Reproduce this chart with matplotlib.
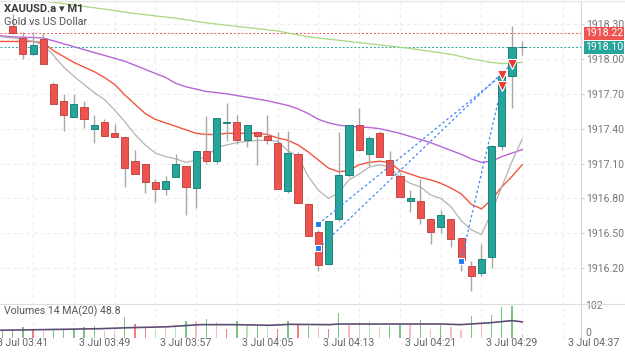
import matplotlib
matplotlib.use("Agg")
import matplotlib.pyplot as plt
import matplotlib.transforms as mtransforms
from matplotlib.lines import Line2D

plt.rcParams['font.family'] = ['Roboto', 'DejaVu Sans']

# ---------------- candles (03:40 .. 04:30, one per minute) ----------------
opens = [1918.28, 1918.18, 1918.04, 1918.17, 1917.78, 1917.64, 1917.50, 1917.59, 1917.40, 1917.46,
         1917.36, 1917.33, 1917.12, 1917.10, 1916.94, 1916.88, 1916.98, 1917.08, 1916.89, 1917.21,
         1917.12, 1917.45, 1917.46, 1917.30, 1917.37, 1917.34, 1917.28, 1916.86, 1917.18, 1916.75,
         1916.51, 1916.24, 1916.62, 1917.00, 1917.43, 1917.18, 1917.36, 1917.13, 1916.99, 1916.78,
         1916.78, 1916.62, 1916.55, 1916.62, 1916.46, 1916.22, 1916.16, 1916.30, 1917.25, 1917.85,
         1918.10]
highs = [1918.39, 1918.23, 1918.23, 1918.22, 1917.80, 1917.70, 1917.70, 1917.64, 1917.52, 1917.48,
         1917.44, 1917.34, 1917.22, 1917.10, 1916.97, 1916.99, 1917.18, 1917.08, 1917.21, 1917.51,
         1917.49, 1917.62, 1917.52, 1917.43, 1917.38, 1917.52, 1917.37, 1917.38, 1917.20, 1916.76,
         1916.53, 1916.61, 1917.37, 1917.43, 1917.58, 1917.34, 1917.38, 1917.21, 1917.03, 1916.87,
         1916.97, 1916.62, 1916.70, 1916.62, 1916.46, 1916.26, 1916.41, 1917.26, 1917.87, 1918.28,
         1918.15]
lows = [1918.21, 1918.00, 1918.03, 1917.96, 1917.61, 1917.38, 1917.50, 1917.41, 1917.28, 1917.34,
        1917.33, 1916.90, 1917.01, 1916.85, 1916.77, 1916.83, 1916.98, 1916.66, 1916.72, 1917.10,
        1917.10, 1917.29, 1917.27, 1917.24, 1917.09, 1917.27, 1916.88, 1916.85, 1916.76, 1916.48,
        1916.18, 1916.23, 1916.61, 1916.98, 1917.21, 1917.08, 1917.16, 1917.00, 1916.81, 1916.68,
        1916.58, 1916.41, 1916.50, 1916.38, 1916.18, 1916.00, 1916.13, 1916.20, 1917.22, 1917.58,
        1918.03]
closes = [1918.22, 1918.04, 1918.12, 1917.96, 1917.61, 1917.52, 1917.61, 1917.48, 1917.43, 1917.34,
          1917.33, 1917.06, 1917.01, 1916.94, 1916.88, 1916.95, 1917.10, 1916.90, 1917.21, 1917.12,
          1917.49, 1917.46, 1917.30, 1917.43, 1917.34, 1917.30, 1916.88, 1917.19, 1916.76, 1916.48,
          1916.23, 1916.61, 1917.00, 1917.43, 1917.22, 1917.32, 1917.16, 1917.00, 1916.81, 1916.80,
          1916.63, 1916.51, 1916.66, 1916.45, 1916.27, 1916.13, 1916.28, 1917.25, 1917.85, 1918.10,
          1918.10]

# ---------------- moving averages ----------------
ma_fast_x = [-1.25] + list(range(0, 51))
ma_fast = [1918.19, 1918.18, 1918.17, 1918.15, 1918.12, 1918.03, 1917.93, 1917.85, 1917.78, 1917.71,
           1917.65, 1917.56, 1917.46, 1917.35, 1917.26, 1917.19, 1917.16, 1917.14, 1917.11, 1917.13,
           1917.16, 1917.24, 1917.26, 1917.28, 1917.29, 1917.30, 1917.30, 1917.29, 1917.21, 1917.16,
           1916.99, 1916.87, 1916.80, 1916.85, 1916.96, 1917.01, 1917.07, 1917.09, 1917.07, 1916.98,
           1916.93, 1916.90, 1916.83, 1916.80, 1916.73, 1916.61, 1916.53, 1916.49, 1916.68, 1916.90,
           1917.12, 1917.31]
ma_mid_x = [-1.25] + list(range(0, 51))
ma_mid = [1918.15, 1918.15, 1918.15, 1918.15, 1918.14, 1918.07, 1918.02, 1917.97, 1917.93, 1917.89,
          1917.84, 1917.78, 1917.69, 1917.61, 1917.53, 1917.48, 1917.45, 1917.42, 1917.39, 1917.36,
          1917.35, 1917.35, 1917.36, 1917.36, 1917.36, 1917.36, 1917.35, 1917.32, 1917.30, 1917.26,
          1917.20, 1917.13, 1917.06, 1917.03, 1917.04, 1917.09, 1917.11, 1917.12, 1917.11, 1917.04,
          1917.01, 1916.98, 1916.96, 1916.93, 1916.89, 1916.84, 1916.75, 1916.71, 1916.79, 1916.90,
          1916.99, 1917.09]
ma_slow_x = [-1.25, 0, 3, 5, 7, 9, 11, 13, 15, 16, 17, 18, 19, 21, 23, 25, 27, 28, 29, 30, 31, 32,
             33, 35, 36, 38, 41, 44, 45, 46, 47, 48, 49, 50]
ma_slow = [1918.20, 1918.19, 1918.18, 1918.13, 1918.08, 1918.03, 1917.98, 1917.91, 1917.84, 1917.79,
           1917.76, 1917.74, 1917.72, 1917.70, 1917.67, 1917.64, 1917.60, 1917.57, 1917.53, 1917.48,
           1917.45, 1917.43, 1917.42, 1917.41, 1917.40, 1917.36, 1917.28, 1917.18, 1917.14, 1917.11,
           1917.12, 1917.16, 1917.19, 1917.22]
ma_long_x = [-1.25, 2, 8, 12, 16, 19, 23, 26, 29, 33, 36, 39, 43, 45, 47, 48, 50]
ma_long = [1918.55, 1918.51, 1918.44, 1918.39, 1918.35, 1918.31, 1918.27, 1918.24, 1918.19, 1918.15,
           1918.12, 1918.09, 1918.04, 1918.00, 1917.97, 1917.96, 1917.97]

# ---------------- trades ----------------
entry_idx = [30, 30, 44]
entry_px = [1916.58, 1916.37, 1916.26]
exit_idx = [48, 49, 48]
exit_px = [1917.86, 1917.96, 1917.77]
ask_px, bid_px = 1918.22, 1918.10

# ---------------- volumes (03:39 .. 04:30) ----------------
vol = [27, 30, 34, 30, 22, 26, 26, 30, 34, 38, 22, 22, 67, 45, 36, 26, 32, 34, 56, 54,
       60, 52, 28, 56, 39, 41, 39, 28, 56, 41, 39, 34, 30, 81, 43, 52, 54, 36, 39, 43,
       43, 58, 30, 43, 36, 26, 70, 49, 75, 99, 102, 14]
vol_col = ['g', 'g', 'g', 'r', 'lr', 'g', 'g', 'g', 'g', 'g', 'lr', 'lr', 'g', 'r', 'r', 'lg', 'lr', 'lg',
           'g', 'lr', 'g', 'lr', 'r', 'g', 'lg', 'g', 'lg', 'r', 'g', 'r', 'g', 'lr', 'r', 'g', 'lr',
           'lg', 'lg', 'lr', 'g', 'g', 'lr', 'g', 'lr', 'g', 'lr', 'lr', 'g', 'lr', 'g', 'g', 'g', 'lr']
vma_x = [-1.25, 3, 8.6, 11.2, 15.1, 18.4, 21.6, 25.3, 27.2, 31.1, 32, 42.2, 43.9, 44.9, 46.8, 49, 50]
vma = [25, 27, 30, 33, 36, 43, 43, 41, 44, 43, 45, 45, 43, 45, 49, 56, 52]

tick_prices = [1916.20, 1916.50, 1916.80, 1917.10, 1917.40, 1917.70, 1918.00, 1918.30]
time_idx = [1, 9, 17, 25, 33, 41, 49, 57]
time_labels = ['3 Jul 03:41', '3 Jul 03:49', '3 Jul 03:57', '3 Jul 04:05',
               '3 Jul 04:13', '3 Jul 04:21', '3 Jul 04:29', '3 Jul 04:37']

BULL, BEAR = '#26a69a', '#ef5350'
vcolors = {'g': '#7cc47f', 'lg': '#b9e2bb', 'r': '#f08080', 'lr': '#f7bcbc'}

fig = plt.figure(figsize=(6.25, 3.52), dpi=100)
ax = fig.add_axes([0, 48 / 352, 581 / 625, 303 / 352])
vax = fig.add_axes([0, 14 / 352, 581 / 625, 34 / 352])

for a in (ax, vax):
    a.set_xlim(-1.25, 55.77)
    for s in ('top', 'left', 'bottom'):
        a.spines[s].set_visible(False)
    a.spines['right'].set_color('#d6d6d6')
    a.set_xticks(range(2, 56, 4))
    a.tick_params(axis='x', length=0, labelbottom=False)
    a.grid(axis='x', color='#ececec', ls=(0, (3, 3)), lw=0.8)
    a.set_axisbelow(True)

ax.set_ylim(1915.892, 1918.498)
ax.yaxis.tick_right()
ax.set_yticks(tick_prices)
ax.set_yticklabels(['%.2f' % p for p in tick_prices])
ax.tick_params(axis='y', length=2, color='#cccccc', pad=2, labelsize=7.6, labelcolor='#777777')
ax.grid(axis='y', color='#ececec', ls=(0, (3, 3)), lw=0.8)

# moving averages
ax.plot(ma_long_x, ma_long, color='#a8d87e', lw=0.9, zorder=2)
ax.plot(ma_slow_x, ma_slow, color='#b865d8', lw=1.0, zorder=2)
ax.plot(ma_mid_x, ma_mid, color='#f2553d', lw=1.0, zorder=2)
ax.plot(ma_fast_x, ma_fast, color='#b3b3b3', lw=0.9, zorder=2)

ax.axhline(ask_px, color=BEAR, ls=(0, (2, 2)), lw=0.7, zorder=1)
ax.axhline(bid_px, color=BULL, ls=(0, (2, 2)), lw=0.7, zorder=1)

# candles
for i in range(len(opens)):
    o, h, l, c = opens[i], highs[i], lows[i], closes[i]
    ax.vlines(i, l, h, color='#a6a6a6', lw=1.0, zorder=3)
    up = c >= o
    ax.bar(i, max(abs(c - o), 0.006), bottom=min(o, c), width=0.7,
           color=BULL if up else BEAR, edgecolor='#1f8279' if up else '#c04a47',
           lw=0.7, zorder=4)

# trades
for k in range(len(entry_idx)):
    ax.plot([entry_idx[k], exit_idx[k]], [entry_px[k], exit_px[k]], color='#3d87f5',
            ls=(0, (2, 2)), lw=0.9, zorder=5)
ax.plot(entry_idx, entry_px, ls='none', marker='s', ms=5, color='#1e7bf0', mec='white', mew=0.8, zorder=6)
ax.plot(exit_idx, exit_px, ls='none', marker='v', ms=7, color='#ef3b2c', mec='white', mew=0.8, zorder=6)

# price boxes
tr = mtransforms.blended_transform_factory(ax.transAxes, ax.transData)
ax.text(1.007, ask_px, '%.2f' % ask_px, transform=tr, va='center', ha='left', color='white',
        size=7.6, bbox=dict(boxstyle='square,pad=0.12', fc=BEAR, ec='none'), clip_on=False)
ax.text(1.007, bid_px, '%.2f' % bid_px, transform=tr, va='center', ha='left', color='white',
        size=7.6, bbox=dict(boxstyle='square,pad=0.12', fc=BULL, ec='none'), clip_on=False)

# titles
fig.text(4 / 625, 1 - 9 / 352, 'XAUUSD.a \u25be M1', va='center', ha='left', size=8,
         weight='bold', color='#3a3a3a')
fig.text(4 / 625, 1 - 22 / 352, 'Gold vs US Dollar', va='center', ha='left', size=7.8, color='#555555')

# volumes
vidx = list(range(-1, len(vol) - 1))
vax.bar(vidx, vol, width=0.13, color=[vcolors[c] for c in vol_col], zorder=2)
vax.plot(vma_x, vma, color='#5f4c74', lw=1.2, zorder=3)
vax.set_ylim(0, 109.5)
vax.set_yticks([])
vtr = mtransforms.blended_transform_factory(vax.transAxes, vax.transData)
vax.text(1.007, 102, '102', transform=vtr, va='center', ha='left', size=7.6, color='#777777')
vax.text(1.007, 0, '0', transform=vtr, va='bottom', ha='left', size=7.6, color='#777777')
vax.text(0.007, 0.78, 'Volumes 14 MA(20) 48.8', transform=vax.transAxes, va='center', ha='left',
         size=7.6, color='#555555')

xtr = mtransforms.blended_transform_factory(vax.transData, fig.transFigure)
for i, s in zip(time_idx, time_labels):
    vax.text(i, 9 / 352, s, transform=xtr, ha='center', va='center', size=7.6,
             color='#666666', clip_on=False)

fig.add_artist(Line2D([0, 1], [48 / 352, 48 / 352], color='#dddddd', lw=0.8))
fig.add_artist(Line2D([0, 1], [1 - 0.5 / 352, 1 - 0.5 / 352], color='#e6e6e6', lw=1.0))

fig.savefig('out.png', dpi=100, facecolor='white')
